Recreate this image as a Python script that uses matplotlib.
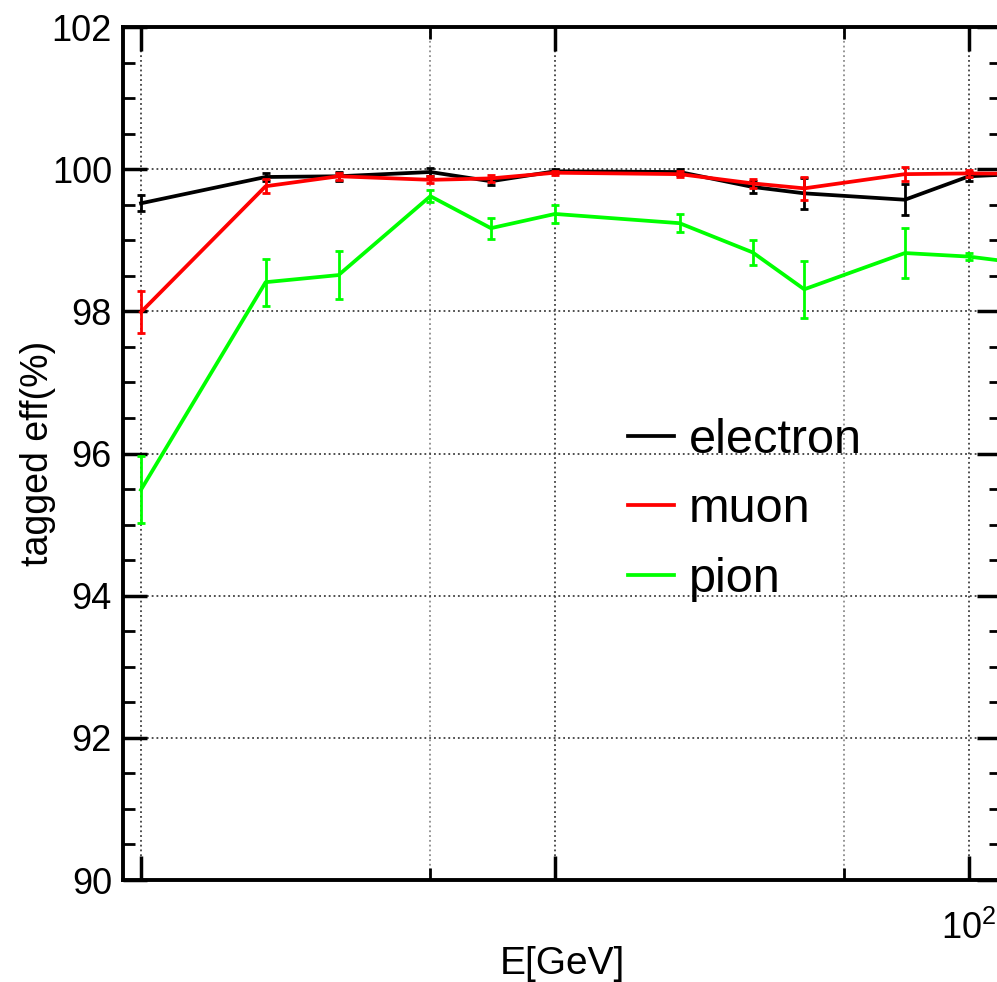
import matplotlib
matplotlib.use('Agg')
import matplotlib.pyplot as plt
from matplotlib.ticker import FixedLocator, FixedFormatter, MultipleLocator, NullFormatter

plt.rcParams['font.family'] = ['Liberation Sans', 'DejaVu Sans']
plt.rcParams['mathtext.fontset'] = 'custom'
plt.rcParams['mathtext.rm'] = 'Liberation Sans'

# beam energies (GeV) and tagging efficiencies (%)
energy = [1, 2, 3, 5, 7, 10, 20, 30, 40, 70, 100, 200]

electron = [99.52, 99.89, 99.90, 99.96, 99.83, 99.97, 99.96, 99.75, 99.66, 99.57, 99.90, 99.98]
electron_err = [0.11, 0.05, 0.06, 0.05, 0.05, 0.03, 0.04, 0.08, 0.22, 0.22, 0.06, 0.05]

muon = [97.99, 99.76, 99.90, 99.85, 99.87, 99.95, 99.93, 99.80, 99.73, 99.93, 99.94, 99.93]
muon_err = [0.30, 0.10, 0.05, 0.05, 0.05, 0.03, 0.04, 0.06, 0.16, 0.10, 0.05, 0.05]

pion = [95.49, 98.41, 98.51, 99.62, 99.17, 99.37, 99.24, 98.83, 98.31, 98.82, 98.77, 98.55]
pion_err = [0.47, 0.33, 0.34, 0.08, 0.15, 0.13, 0.13, 0.18, 0.40, 0.35, 0.05, 0.05]

series = [
    ('electron', electron, electron_err, 'black'),
    ('muon', muon, muon_err, '#ff0000'),
    ('pion', pion, pion_err, '#00ff00'),
]

fig = plt.figure(figsize=(9.97, 9.82), dpi=100)
# axes box runs a little past the right edge of the picture
ax = fig.add_axes([123 / 997, 1 - 880 / 982, (1001 - 123) / 997, (880 - 27) / 982])

for name, vals, errs, col in series:
    ax.errorbar(energy, vals, yerr=errs, fmt='none', ecolor=col,
                elinewidth=2, capsize=3, capthick=2)
    ax.plot(energy, vals, color=col, lw=2.7, label=name)

ax.set_xscale('log')
ax.set_xlim(10 ** (-18 / 414), 10 ** (860 / 414))
ax.set_ylim(90, 102)

ax.xaxis.set_major_locator(FixedLocator([1, 10, 100]))
ax.xaxis.set_major_formatter(FixedFormatter(['', '', r'$\mathregular{10^2}$']))
ax.xaxis.set_minor_locator(FixedLocator([5, 50]))
ax.xaxis.set_minor_formatter(NullFormatter())
ax.yaxis.set_major_locator(MultipleLocator(2))
ax.yaxis.set_minor_locator(MultipleLocator(0.5))

ax.tick_params(which='both', direction='in', top=True, right=True)
ax.tick_params(which='major', length=17, width=2.5, labelsize=26)
ax.tick_params(which='minor', length=8.5, width=2)
ax.tick_params(axis='x', which='major', pad=22)
ax.tick_params(axis='y', which='major', pad=8)

for sp in ax.spines.values():
    sp.set_linewidth(2.8)

ax.grid(True, which='major', linestyle=':', color='0.25', lw=1.3)
ax.grid(True, which='minor', axis='x', linestyle=':', color='0.55', lw=1.3)

ax.set_xlabel('E[GeV]', fontsize=28)
ax.set_ylabel('tagged eff(%)', fontsize=27)
ax.xaxis.set_label_coords(0.5, -0.077)
ax.yaxis.set_label_coords(-0.076, 0.5)

leg = ax.legend(loc='center left', bbox_to_anchor=((628 - 123) / 878, (880 - 510) / 853),
                frameon=False, fontsize=35, handlelength=0.95, handletextpad=0.3,
                labelspacing=0.5, borderpad=0, borderaxespad=0)

fig.savefig('out.png', dpi=100)
